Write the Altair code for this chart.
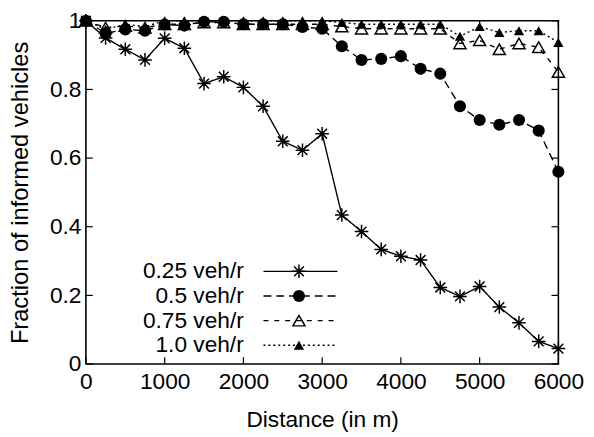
import altair as alt
import pandas as pd

# ---------------- data ----------------
distance = [0, 250, 500, 750, 1000, 1250, 1500, 1750, 2000, 2250, 2500, 2750, 3000,
            3250, 3500, 3750, 4000, 4250, 4500, 4750, 5000, 5250, 5500, 5750, 6000]

series_labels = ["0.25 veh/r", "0.5 veh/r", "0.75 veh/r", "1.0 veh/r"]

frac_025 = [1.0, 0.95, 0.917, 0.886, 0.949, 0.92, 0.817, 0.837, 0.806, 0.751, 0.649, 0.623, 0.671,
            0.434, 0.386, 0.334, 0.314, 0.303, 0.223, 0.197, 0.226, 0.166, 0.12, 0.066, 0.045]
frac_050 = [1.0, 0.963, 0.975, 0.971, 0.989, 0.986, 0.997, 0.997, 0.99, 0.99, 0.99, 0.982, 0.977,
            0.926, 0.886, 0.889, 0.897, 0.86, 0.846, 0.751, 0.711, 0.697, 0.711, 0.68, 0.56]
frac_075 = [1.0, 0.98, 0.985, 0.98, 0.99, 0.99, 0.995, 0.995, 0.99, 0.99, 0.99, 0.99, 0.99,
            0.983, 0.977, 0.977, 0.977, 0.977, 0.977, 0.934, 0.943, 0.917, 0.934, 0.923, 0.851]
frac_100 = [1.0, 0.975, 0.99, 0.983, 1.0, 1.0, 1.0, 1.0, 1.0, 1.0, 1.0, 1.0, 1.0,
            0.995, 0.99, 0.99, 0.99, 0.99, 0.99, 0.955, 0.983, 0.966, 0.971, 0.971, 0.937]

all_series = [frac_025, frac_050, frac_075, frac_100]

x_ticks = [0, 1000, 2000, 3000, 4000, 5000, 6000]
y_ticks = [0, 0.2, 0.4, 0.6, 0.8, 1.0]

# ---------------- styling ----------------
FONT = "Liberation Sans"
W, H = 479, 348
TICK = 7
ASTERISK = "M-1,0L1,0M0,-1L0,1M-0.72,-0.72L0.72,0.72M-0.72,0.72L0.72,-0.72"

styles = [
    dict(dash=[1, 0], shape=ASTERISK, filled=False, size=190),
    dict(dash=[8, 5], shape="circle", filled=True, size=150),
    dict(dash=[5, 6], shape="triangle-up", filled=False, size=150),
    dict(dash=[2, 3], shape="triangle-up", filled=True, size=110),
]
legend_rows_y = [254, 279, 304, 329]

xscale = alt.Scale(domain=[0, 6000], nice=False, zero=False)
yscale = alt.Scale(domain=[0, 1], nice=False, zero=False)

x_axis = alt.Axis(values=x_ticks, format="d", title="Distance (in m)", ticks=False, domain=False,
                  grid=False, labelPadding=7, labelFlush=False, labelOverlap=False, titleY=63,
                  titleBaseline="alphabetic")
y_axis = alt.Axis(values=y_ticks, format="~g", title="Fraction of informed vehicles", ticks=False,
                  domain=False, grid=False, labelPadding=5, labelOverlap=False, titleX=-59,
                  titleY=H / 2, titleBaseline="alphabetic", titleAngle=-90, titleFontSize=24)


def X(field):
    return alt.X(field, scale=xscale, axis=x_axis, title="Distance (in m)")


def Y(field):
    return alt.Y(field, scale=yscale, axis=y_axis, title="Fraction of informed vehicles")


layers = []

# inward ticks on all four sides
xt = pd.DataFrame({"distance": x_ticks})
yt = pd.DataFrame({"fraction": y_ticks})
tick_style = dict(color="black", strokeWidth=1.2)
layers.append(alt.Chart(xt).mark_rule(**tick_style).encode(
    x=X("distance:Q"), y=alt.value(H), y2=alt.value(H - TICK)))
layers.append(alt.Chart(xt).mark_rule(**tick_style).encode(
    x=X("distance:Q"), y=alt.value(0), y2=alt.value(TICK)))
layers.append(alt.Chart(yt).mark_rule(**tick_style).encode(
    y=Y("fraction:Q"), x=alt.value(0), x2=alt.value(TICK)))
layers.append(alt.Chart(yt).mark_rule(**tick_style).encode(
    y=Y("fraction:Q"), x=alt.value(W), x2=alt.value(W - TICK)))

for i, (label, vals, st) in enumerate(zip(series_labels, all_series, styles)):
    df = pd.DataFrame({"distance": distance, "fraction": vals})
    enc = dict(x=X("distance:Q"), y=Y("fraction:Q"))
    layers.append(alt.Chart(df).mark_line(color="black", strokeWidth=1.4,
                                          strokeDash=st["dash"], clip=False).encode(**enc))
    layers.append(alt.Chart(df).mark_point(shape=st["shape"], filled=st["filled"], color="black",
                                           strokeWidth=1.5, size=st["size"], opacity=1,
                                           clip=False).encode(**enc))

    # legend entry (gnuplot style: label, then line sample with symbol)
    ly = legend_rows_y[i]
    ldf = pd.DataFrame({"label": [label]})
    layers.append(alt.Chart(ldf).mark_text(align="right", baseline="middle", font=FONT,
                                           fontSize=23, color="black").encode(
        text="label:N", x=alt.value(160), y=alt.value(ly)))
    layers.append(alt.Chart(ldf).mark_rule(color="black", strokeWidth=1.4,
                                           strokeDash=st["dash"]).encode(
        x=alt.value(180), x2=alt.value(255), y=alt.value(ly)))
    layers.append(alt.Chart(ldf).mark_point(shape=st["shape"], filled=st["filled"], color="black",
                                            strokeWidth=1.5, size=st["size"], opacity=1).encode(
        x=alt.value(216), y=alt.value(ly)))

chart = alt.layer(*layers).properties(
    width=W, height=H, autosize="none",
    padding={"left": 79, "top": 10, "right": 28, "bottom": 71},
).configure(
    background="white",
    axis=alt.AxisConfig(labelFont=FONT, labelFontSize=23, labelColor="black",
                        titleFont=FONT, titleFontSize=23, titleColor="black",
                        titleFontWeight="normal"),
    view=alt.ViewConfig(stroke="black", strokeWidth=1.6),
)

chart.save("out.html", embed_options={"renderer": "svg", "actions": False})
